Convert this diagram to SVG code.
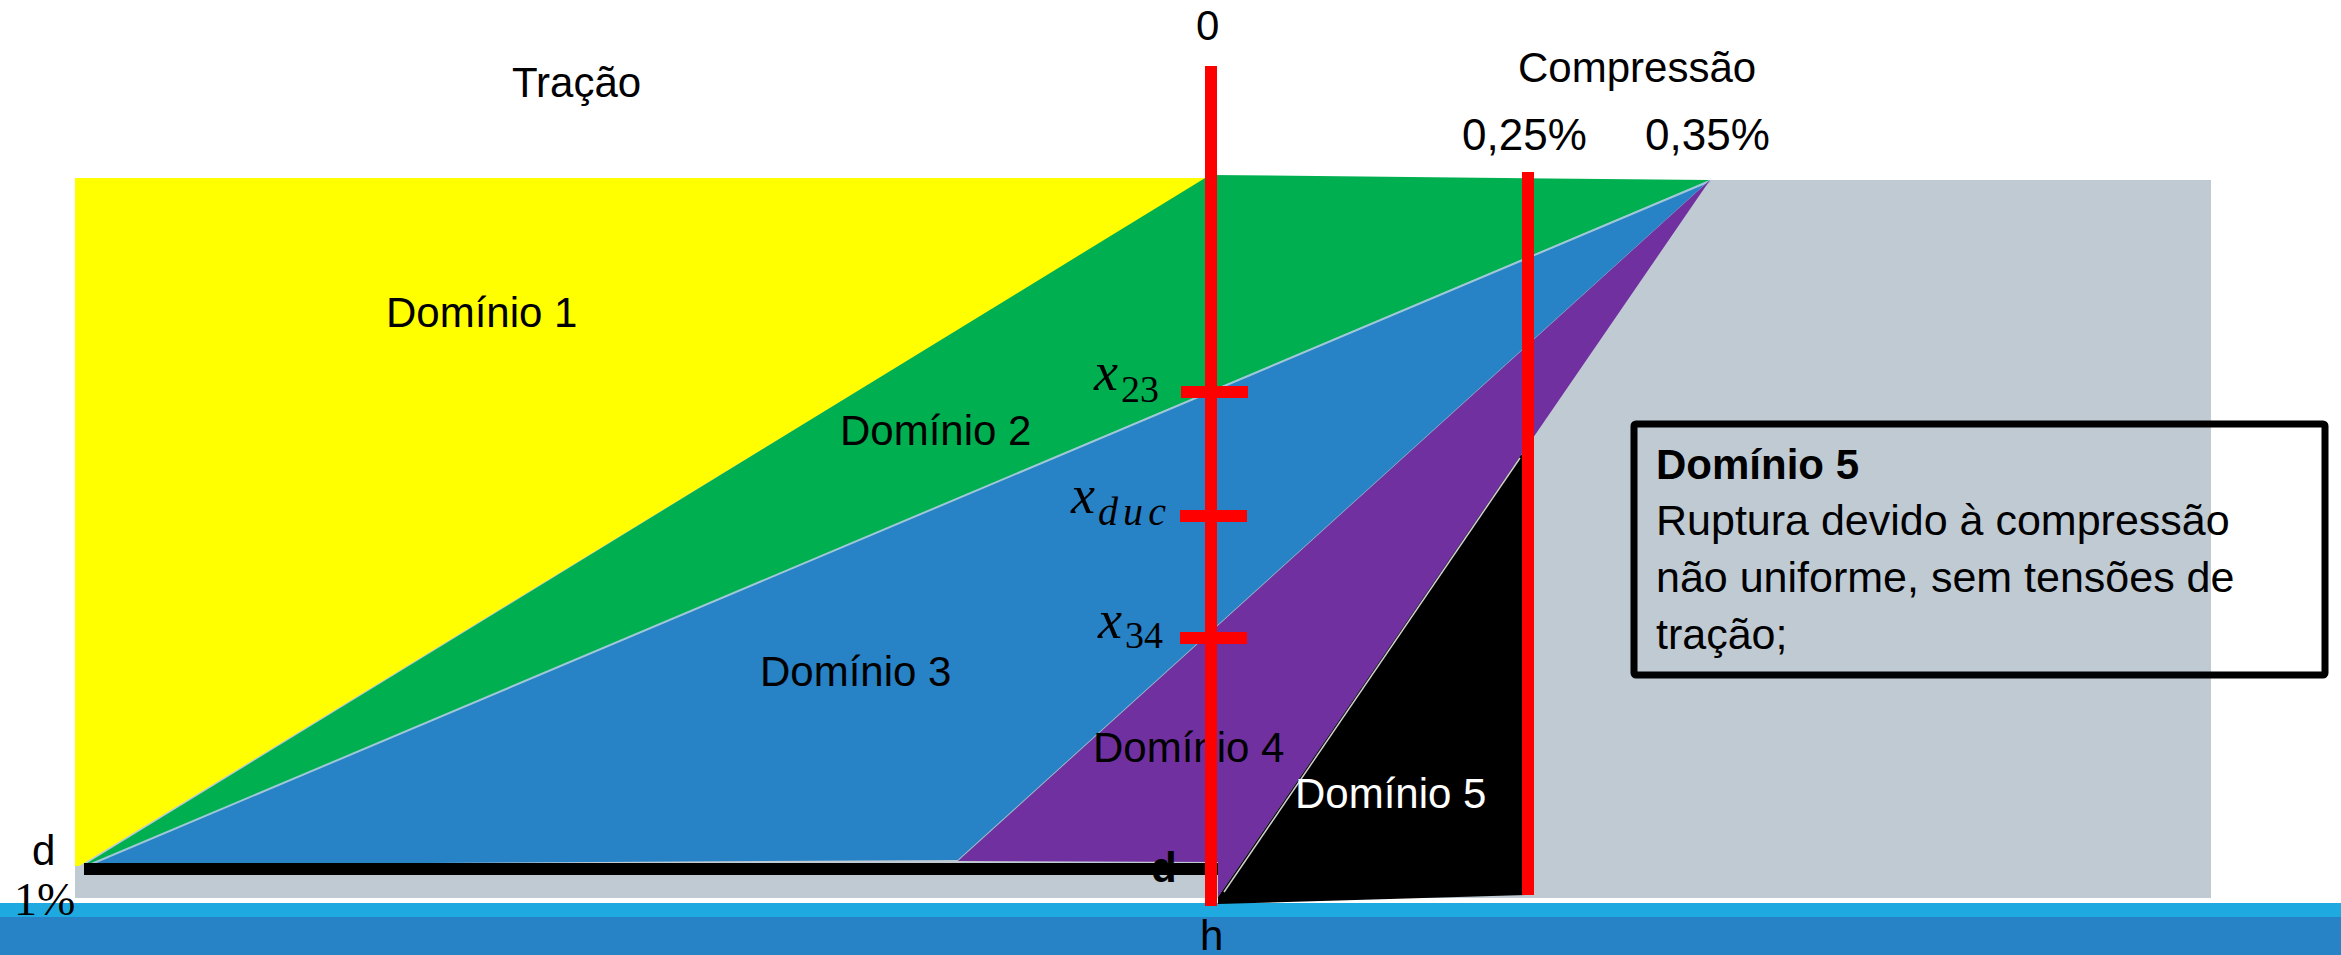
<svg xmlns="http://www.w3.org/2000/svg" width="2341" height="955" viewBox="0 0 2341 955">
<style>
.t{font-family:"Liberation Sans",Arial,sans-serif;font-size:42px;fill:#000}
.m{font-family:"Liberation Serif","Times New Roman",serif;fill:#000}
.red{stroke:#FF0000;stroke-width:12;fill:none}
.tick{fill:#FF0000}
</style>
<rect width="2341" height="955" fill="#FFFFFF"/>
<g id="bands">
<rect x="0" y="903" width="2341" height="14" fill="#1EAAE1"/>
<rect x="0" y="917" width="2341" height="38" fill="#2782C6"/>
</g>
<g id="section">
<rect x="75" y="180" width="2136" height="718" fill="#BFCAD3"/>
</g>
<g id="dominio1"><polygon points="75,178 1207,178 79,866 75,866" fill="#FFFF00"/></g>
<g id="dominio2"><polygon points="1210,175 1710,180 89,865 84,865" fill="#00B050"/></g>
<g id="dominio3"><polygon points="89,865 1710,181 958,860 600,862" fill="#2782C6"/>
<line x1="89" y1="865" x2="1710" y2="181" stroke="#9FC7D8" stroke-width="2"/>
<line x1="958" y1="861" x2="1710" y2="181" stroke="#9FB8C8" stroke-width="2"/></g>
<g id="dominio4"><polygon points="958,861 1710,180 1218,897 1218,862" fill="#7030A0"/></g>
<g id="dominio5"><polygon points="1218,904 1528,895 1528,455 1521,455 1218,897" fill="#000000"/>
<line x1="1224" y1="892" x2="1520" y2="458" stroke="#D0D0D0" stroke-width="1.5"/></g>
<g id="labels">
<text class="t" x="386" y="327">Domínio 1</text>
<text class="t" x="840" y="445">Domínio 2</text>
<text class="t" x="760" y="686">Domínio 3</text>
<text class="t" x="1093" y="762">Domínio 4</text>
<text class="t" x="1295" y="808" style="fill:#FFFFFF">Domínio 5</text>
</g>
<g id="d-line"><line x1="84" y1="869" x2="1218" y2="869" stroke="#000" stroke-width="12"/></g>
<g id="connectors">
<line class="red" x1="1211" y1="66" x2="1211" y2="906"/>
<line class="red" x1="1528" y1="172" x2="1528" y2="895"/>
<rect class="tick" x="1181" y="386" width="67" height="12"/>
<rect class="tick" x="1180" y="510" width="67" height="12"/>
<rect class="tick" x="1180" y="632" width="67" height="12"/>
</g>
<g id="axis-labels">
<text class="t" x="512" y="97">Tração</text>
<text class="t" x="1196" y="40">0</text>
<text class="t" x="1518" y="82">Compressão</text>
<text class="t" x="1462" y="150" style="font-size:44px">0,25%</text>
<text class="t" x="1645" y="150" style="font-size:44px">0,35%</text>
<text class="t" x="32" y="865">d</text>
<text class="m" x="14" y="915" font-size="46">1%</text>
<text class="t" x="1151" y="882" font-weight="bold">d</text>
<text class="t" x="1200" y="950">h</text>
<text class="m" x="1094" y="390" font-size="54" font-style="italic">x<tspan font-size="38" font-style="normal" dx="3" dy="12">23</tspan></text>
<text class="m" x="1071" y="513" font-size="54" font-style="italic">x<tspan font-size="40" dx="3" dy="12" textLength="68">duc</tspan></text>
<text class="m" x="1098" y="638" font-size="54" font-style="italic">x<tspan font-size="38" font-style="normal" dx="3" dy="10">34</tspan></text>
</g>
<g id="info-box">
<rect x="1634" y="424" width="691" height="251" fill="none" stroke="#000" stroke-width="7" rx="2"/>
<text class="t" x="1656" y="479" font-weight="bold">Domínio 5</text>
<text class="t" x="1656" y="535" style="font-size:43px">Ruptura devido à compressão</text>
<text class="t" x="1656" y="592" style="font-size:43px">não uniforme, sem tensões de</text>
<text class="t" x="1656" y="649" style="font-size:43px">tração;</text>
</g>
</svg>
